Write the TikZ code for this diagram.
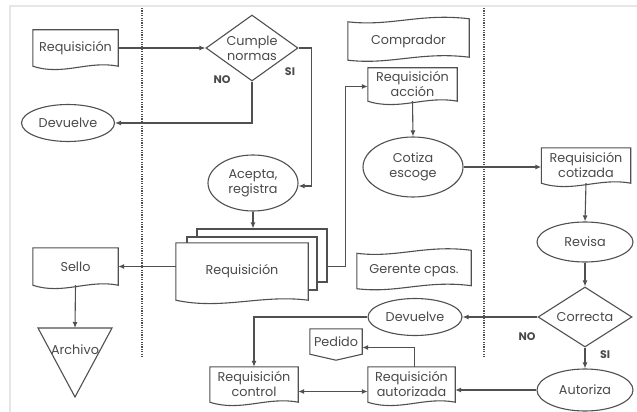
\documentclass[tikz,border=0pt]{standalone}
\usepackage{fontspec}
\setmainfont{Poppins}
\usetikzlibrary{shapes.geometric,arrows.meta,calc}

\definecolor{ink}{HTML}{505050}
\definecolor{txt}{HTML}{4A4A4A}
\definecolor{frame}{HTML}{E6E6E6}

\pgfdeclarelayer{bg}
\pgfsetlayers{bg,main}

% document symbol: straight top and sides, wavy bottom
\newcommand\docoutline[1]{%
  \draw[ln, fill=white] (#1.south west) -- (#1.north west) -- (#1.north east) -- (#1.south east)
    .. controls ($(#1.south east)!0.35!(#1.south west)+(0,-6)$)
       and ($(#1.south east)!0.65!(#1.south west)+(0,10)$) .. (#1.south west) -- cycle;}

% punched-tape symbol: wavy top and bottom
\newcommand\tapeoutline[1]{%
  \draw[ln, fill=white] (#1.north west)
    .. controls ($(#1.north west)!0.35!(#1.north east)+(0,5)$)
       and ($(#1.north west)!0.6!(#1.north east)+(0,-9)$) .. ($(#1.north east)+(0,-3)$)
    -- ($(#1.south east)+(0,-3)$)
    .. controls ($(#1.south west)!0.6!(#1.south east)+(0,-9)$)
       and ($(#1.south west)!0.35!(#1.south east)+(0,5)$) .. (#1.south west) -- cycle;}

% off-page symbol: box with a shallow pointed bottom
\newcommand\pageoutline[1]{%
  \draw[ln, fill=white] (#1.north west) -- (#1.north east) -- (#1.south east)
    -- ($(#1.south)+(0,6)$) -- (#1.south west) -- cycle;}

\begin{document}
\begin{tikzpicture}[x=1pt, y=-1pt,
  ln/.style={draw=ink, line width=1.1pt},
  arr/.style={ln, -{Latex[length=6pt,width=5pt]}},
  dbl/.style={ln, {Latex[length=6pt,width=5pt]}-{Latex[length=6pt,width=5pt]}},
  lane/.style={draw=ink, line width=1.5pt, dash pattern=on 1.2pt off 1.2pt},
  lbl/.style={text=txt, font=\fontsize{12.8}{15}\selectfont, align=center, inner sep=0pt},
  tag/.style={text=txt, font=\fontsize{11}{13}\selectfont\bfseries, inner sep=0pt},
  oval/.style={lbl, ellipse, ln, fill=white},
  decide/.style={diamond, ln, fill=white, inner sep=0pt}
]
\useasboundingbox (0,0) rectangle (637,412);

% ---- nodes ----
\node[lbl, minimum width=85pt, minimum height=36pt] (req1) at (75.5,48) {Requisición};
\node[decide, minimum width=92pt, minimum height=66pt,
      label={[lbl]center:Cumple\\normas}] (cumple) at (252,48) {};
\node[tag] at (222,80) {NO};
\node[tag] at (290,72) {SI};
\node[oval, minimum width=93pt, minimum height=37pt] (dev1) at (68,123) {Devuelve};
\node[oval, minimum width=90pt, minimum height=56pt] (acepta) at (253,183) {Acepta,\\registra};

\node[lbl, minimum width=132pt, minimum height=57pt] (stk1) at (242,271.5) {Requisición};
\node[lbl, minimum width=85pt, minimum height=37pt] (sello) at (75.5,266.5) {Sello};
\node[lbl] (archivo) at (75,350) {Archivo};
\coordinate (archtop) at (75,328);

\node[lbl, minimum width=121pt, minimum height=38pt] (comprador) at (408.5,41) {Comprador};
\node[lbl, minimum width=89pt, minimum height=33pt] (reqacc) at (412.5,84.5) {Requisición\\acción};
\node[oval, minimum width=100pt, minimum height=60pt] (cotiza) at (413,167) {Cotiza\\escoge};
\node[lbl, minimum width=114pt, minimum height=35pt] (gerente) at (414,271) {Gerente cpas.};

\node[lbl, minimum width=89pt, minimum height=35pt] (reqcot) at (586,165.5) {Requisición\\cotizada};
\node[oval, minimum width=96pt, minimum height=40pt] (revisa) at (585,242) {Revisa};
\node[decide, minimum width=94pt, minimum height=60pt,
      label={[lbl]center:Correcta}] (correcta) at (585,317) {};
\node[tag] at (527,337) {NO};
\node[tag] at (605,355) {SI};
\node[oval, minimum width=96pt, minimum height=42pt] (autoriza) at (585,390) {Autoriza};
\node[oval, minimum width=94pt, minimum height=37pt] (dev2) at (415,317) {Devuelve};

\node[lbl, minimum width=88pt, minimum height=35pt] (reqctl) at (254,384.5) {Requisición\\control};
\node[lbl, minimum width=87pt, minimum height=35pt] (reqaut) at (411.5,384.5) {Requisición\\autorizada};
\node[lbl, minimum width=52pt, minimum height=25pt] (pedido) at (336,341.5) {Pedido};

% ---- page, lanes and outlines behind the texts ----
\begin{pgfonlayer}{bg}
  \fill[white] (0,0) rectangle (637,412);
  \draw[frame, line width=1.5pt] (10,412) -- (10,6) -- (637,6);
  \draw[lane] (142,8) -- (142,358);
  \draw[lane] (484,8) -- (484,358);
  \node[ln, fill=white, inner sep=0pt, minimum width=130pt, minimum height=53pt] (stk3) at (262,255.5) {};
  \node[ln, fill=white, inner sep=0pt, minimum width=130pt, minimum height=53pt] (stk2) at (252,263.5) {};
  \docoutline{stk1}
  \docoutline{req1}
  \docoutline{sello}
  \docoutline{reqacc}
  \docoutline{reqcot}
  \docoutline{reqctl}
  \docoutline{reqaut}
  \tapeoutline{comprador}
  \tapeoutline{gerente}
  \pageoutline{pedido}
  \draw[ln, fill=white] (38,328) -- (112,328) -- (75,397) -- cycle;
\end{pgfonlayer}

% ---- connectors ----
\draw[arr] (req1.east) -- (cumple.west);
\draw[arr] (cumple.south) |- (dev1.east);
\draw[arr] (cumple.east) -- ++(13,0) |- ($(acepta.east)+(0,3)$);
\draw[arr] (acepta.south) -- (acepta.south |- stk3.north);
\draw[arr] (stk1.west |- sello.east) -- (sello.east);
\draw[arr] (sello.south) -- (archtop);
\draw[arr] (stk3.east |- sello.east) -- ++(18,0) |- ($(reqacc.west)+(0,2)$);
\draw[arr] (reqacc.south) -- (cotiza.north);
\draw[arr] (cotiza.east) -- (cotiza.east -| reqcot.west);
\draw[arr] (reqcot.south) -- (revisa.north);
\draw[arr] (revisa.south) -- (correcta.north);
\draw[arr] (correcta.west) -- (dev2.east);
\draw[arr] (correcta.south) -- (autoriza.north);
\draw[arr] (autoriza.west) -- (autoriza.west -| reqaut.east);
\draw[arr] (dev2.west) -| (reqctl.north);
\draw[dbl] ($(reqctl.east)+(0,7)$) -- ($(reqaut.west)+(0,7)$);
\draw[arr] ($(reqaut.north)+(3,0)$) |- ($(pedido.east)+(0,6)$);
\end{tikzpicture}
\end{document}
